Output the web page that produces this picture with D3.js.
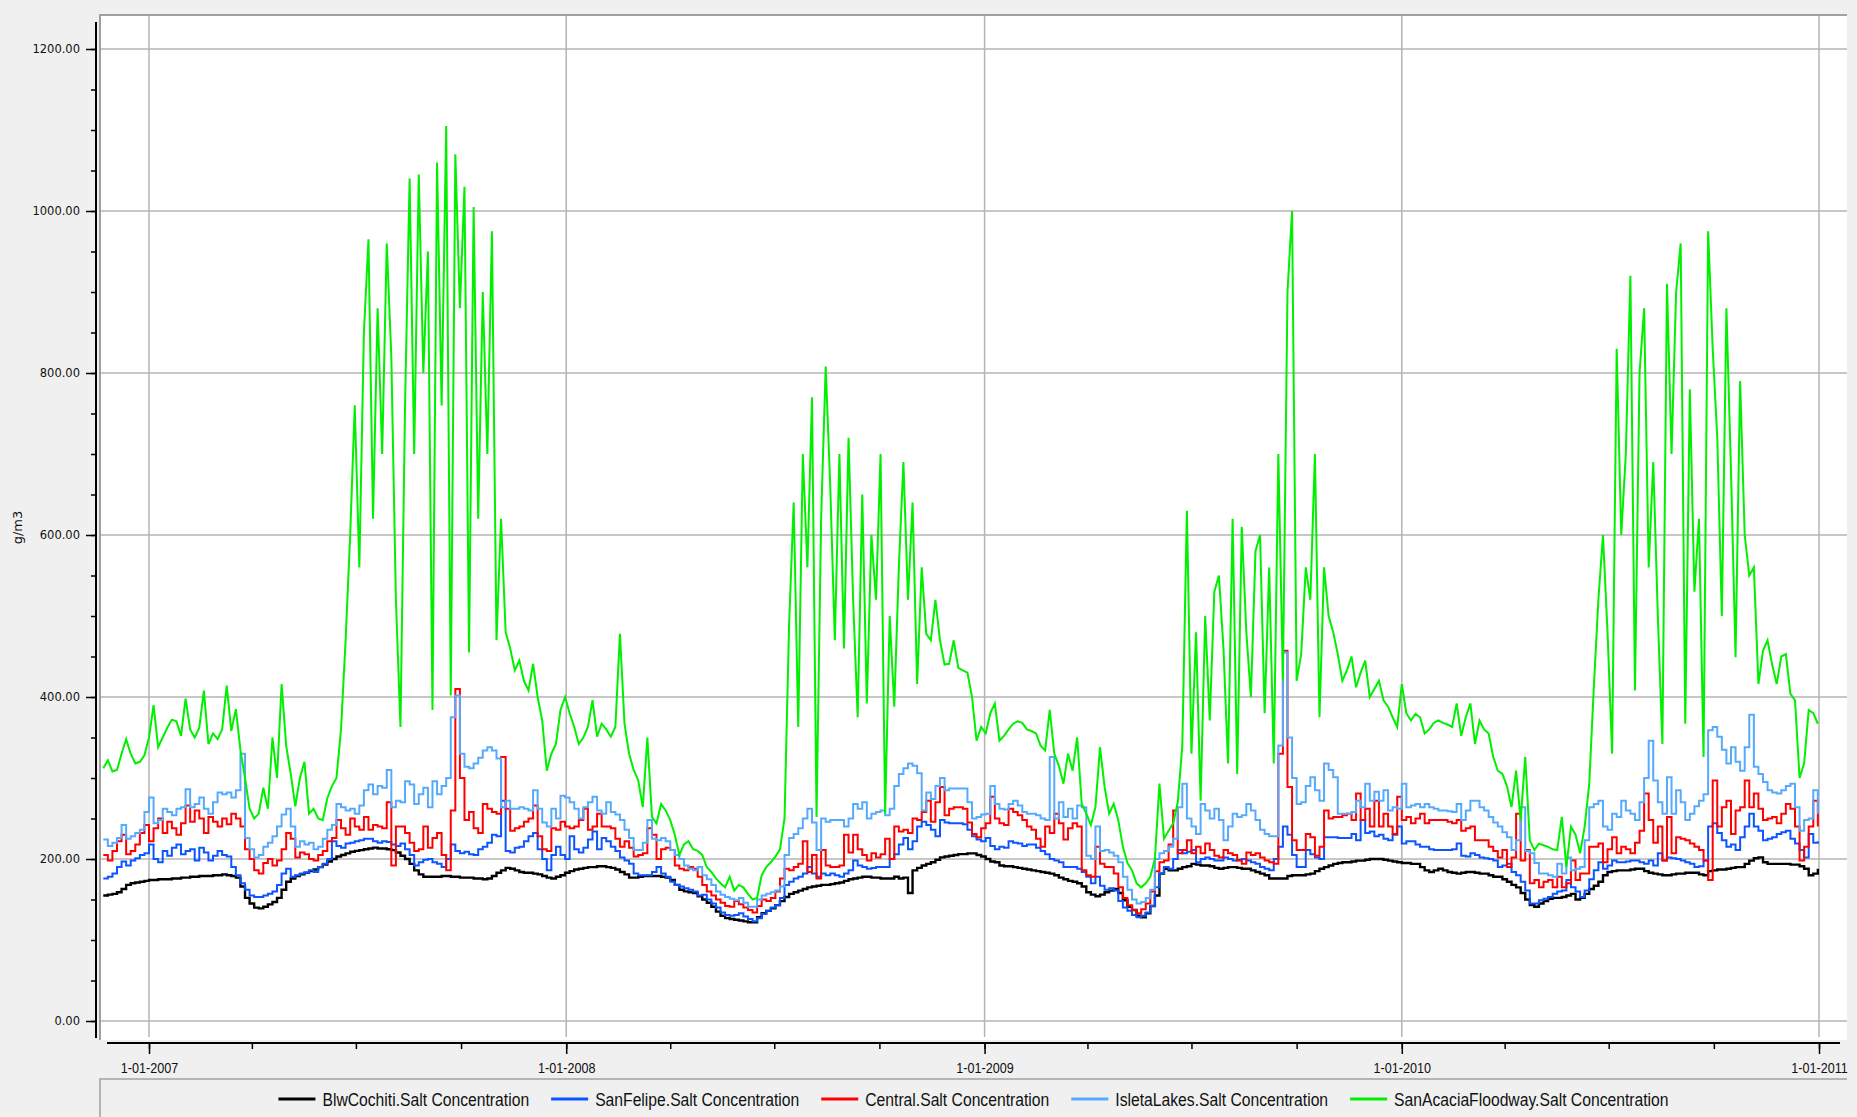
<!DOCTYPE html>
<html>
<head>
<meta charset="utf-8">
<script src="https://cdn.jsdelivr.net/npm/d3@7"></script>
<style>
    html, body { margin: 0; padding: 0; background: #f0f0f0; }
    svg { display: block; }
</style>
</head>
<body>
<svg id="chart" width="1857" height="1117"></svg>
<script>
// Daily model output, sampled every 4 days from 22 Nov 2006
const START_DATE = "2006-11-22";
const STEP_DAYS = 4;

const SERIES_NAMES = [
    "BlwCochiti.Salt Concentration",
    "SanFelipe.Salt Concentration",
    "Central.Salt Concentration",
    "IsletaLakes.Salt Concentration",
    "SanAcaciaFloodway.Salt Concentration",
];
const SERIES_COLORS = ["#000000", "#0a55ff", "#ff0000", "#55aaff", "#00f000"];

const Y_TICKS = [0, 200, 400, 600, 800, 1000, 1200];
const X_TICKS = ["2007-01-01", "2008-01-01", "2009-01-01", "2010-01-01", "2011-01-01"];
const Y_LABEL = "g/m3";

const blwCochiti = [
    155,156,157,159,163,168,170,171,172,173,
    174,174,175,175,175,176,176,177,177,178,
    178,179,179,179,180,180,181,180,179,177,
    166,152,145,140,139,141,144,147,152,162,
    172,176,179,181,183,185,187,190,193,197,
    200,203,205,207,209,210,211,212,213,214,
    213,213,212,211,208,204,200,194,186,181,
    178,178,178,178,179,179,178,178,177,177,
    177,176,176,175,176,179,183,186,189,188,
    186,184,183,183,182,181,179,177,176,178,
    180,183,185,187,188,189,190,190,191,191,
    190,189,187,184,181,177,177,178,179,179,
    179,179,178,177,174,168,162,160,159,158,
    154,150,146,141,135,130,127,126,125,124,
    123,122,122,128,133,136,139,143,148,153,
    157,159,161,163,165,166,167,168,168,169,
    170,171,173,175,176,177,178,178,177,177,
    176,176,176,178,176,177,158,186,189,192,
    194,196,199,202,203,204,205,206,206,207,
    207,205,203,200,197,196,192,191,191,190,
    189,188,187,186,185,184,183,182,180,177,
    175,173,172,170,166,159,156,154,156,159,
    161,163,158,149,141,137,130,128,133,142,
    155,182,188,186,186,188,190,191,194,193,
    192,192,191,189,188,189,190,190,189,188,
    188,186,184,182,180,176,176,176,176,179,
    180,180,180,181,182,185,188,190,192,194,
    195,196,196,197,198,198,199,200,200,200,
    199,198,197,196,195,195,194,194,190,186,
    184,186,188,186,184,183,182,183,184,184,
    183,182,182,180,178,178,175,172,168,165,
    158,150,143,141,145,148,151,152,152,153,
    155,157,150,152,157,163,167,172,180,184,
    185,186,186,186,187,188,188,185,183,182,
    181,180,180,181,182,182,183,183,183,181,
    180,185,186,187,187,188,189,190,190,194,
    198,201,202,196,194,194,194,194,194,193,
    193,191,188,180,182,188
];

const sanFelipe = [
    176,178,182,190,197,192,198,201,205,207,
    218,200,196,210,204,214,218,206,210,212,
    198,214,208,198,204,210,205,203,190,180,
    170,162,155,153,153,155,157,160,168,182,
    188,178,180,182,183,186,184,190,194,200,
    222,216,214,219,220,222,223,225,225,222,
    220,222,221,218,216,219,212,205,192,196,
    199,200,196,194,190,200,218,210,207,209,
    206,205,212,215,220,230,228,272,210,208,
    214,215,222,228,232,212,200,186,205,215,
    205,200,228,212,208,214,224,234,212,226,
    222,215,210,202,198,194,182,180,180,180,
    184,190,182,178,172,168,166,164,162,160,
    155,156,150,145,140,134,131,130,131,133,
    129,126,123,127,132,136,140,143,152,168,
    172,176,178,182,190,182,178,182,180,182,
    180,178,182,186,198,192,190,188,189,190,
    190,190,200,206,218,226,212,222,240,246,
    242,236,228,248,245,244,244,244,243,236,
    228,224,222,226,216,212,215,214,222,220,
    219,216,218,218,214,210,206,200,198,196,
    190,190,190,188,184,178,170,178,167,162,
    164,161,148,140,136,131,128,130,134,142,
    165,182,190,188,200,211,207,209,211,196,
    200,202,200,198,198,202,200,198,199,200,
    198,196,194,190,188,186,200,215,240,230,
    205,190,190,211,206,202,200,227,227,227,
    226,226,226,231,223,248,232,234,228,230,
    225,223,230,240,219,222,222,218,215,215,
    212,211,211,211,211,212,219,204,203,207,
    205,202,201,200,198,190,192,194,184,180,
    172,161,145,145,149,151,153,157,160,161,
    174,165,160,153,161,175,186,196,188,192,
    198,196,196,197,198,198,196,194,198,192,
    207,198,202,201,200,198,196,194,190,191,
    198,240,244,232,223,215,218,211,227,240,
    256,240,235,223,225,227,231,233,235,225,
    219,211,202,231,220,222
];

const central = [
    205,198,210,222,230,206,210,218,232,242,
    222,238,250,232,246,238,230,244,266,246,
    260,250,232,252,246,240,250,243,256,250,
    240,212,200,186,182,195,200,192,198,212,
    232,225,202,208,206,200,198,205,210,222,
    226,248,238,230,250,240,236,252,236,242,
    240,238,270,192,240,240,232,220,210,212,
    240,214,226,232,205,186,260,410,300,248,
    258,238,232,268,262,258,256,326,262,235,
    238,240,246,250,266,228,212,210,238,236,
    246,240,238,240,248,262,236,240,256,240,
    240,238,225,215,222,214,203,205,207,238,
    230,200,212,214,211,192,188,186,190,188,
    178,168,160,155,150,146,142,141,148,144,
    140,137,134,142,150,148,152,160,176,188,
    186,190,194,222,184,205,176,211,192,190,
    190,192,230,208,230,212,205,198,207,202,
    206,225,200,240,234,236,232,250,248,258,
    272,246,270,289,254,262,264,264,262,245,
    231,227,238,244,277,250,244,242,262,258,
    254,248,240,236,225,215,240,232,256,244,
    224,238,244,240,186,180,178,215,194,190,
    190,182,165,152,143,137,133,138,145,160,
    185,196,198,218,260,207,211,223,207,215,
    207,219,211,204,202,211,207,205,198,194,
    208,205,207,202,198,196,194,330,457,289,
    223,211,211,231,227,204,215,260,250,252,
    252,254,256,248,281,248,262,240,272,240,
    256,240,231,277,248,252,244,250,256,244,
    248,248,248,248,246,244,248,235,238,240,
    223,223,223,215,210,202,211,190,202,256,
    198,211,170,174,165,172,174,165,178,165,
    170,198,174,182,182,215,215,219,196,212,
    227,207,215,212,207,220,235,281,248,220,
    240,198,252,207,227,225,223,219,215,211,
    198,174,297,240,264,272,231,260,264,297,
    264,281,262,248,250,252,244,256,268,262,
    240,198,215,240,272,240
];

const isletaLakes = [
    224,216,220,226,242,225,228,232,236,258,
    276,244,248,262,258,254,262,264,286,264,
    268,276,262,256,270,282,280,282,276,285,
    330,226,212,202,205,215,220,228,240,255,
    262,240,215,222,218,220,212,215,225,236,
    242,268,264,260,262,256,266,285,292,280,
    290,288,310,264,272,270,296,292,268,280,
    288,264,296,280,290,300,375,402,330,314,
    312,318,325,334,338,334,324,264,272,262,
    262,264,262,260,285,262,245,240,262,250,
    278,276,270,262,250,264,270,277,260,256,
    270,258,255,248,236,226,211,211,220,248,
    225,223,226,222,211,205,200,192,188,186,
    190,180,175,168,160,156,153,151,149,152,
    146,141,141,150,155,157,159,161,166,205,
    226,231,238,250,262,245,211,250,246,248,
    248,248,240,250,268,262,270,250,256,258,
    260,254,262,290,305,312,318,315,306,260,
    282,274,290,300,285,287,287,287,287,270,
    250,252,255,256,290,268,262,261,268,272,
    266,258,256,256,254,250,248,326,250,270,
    252,262,250,266,264,204,200,240,210,211,
    208,204,196,178,162,150,145,147,152,162,
    200,207,210,215,225,264,293,250,240,231,
    268,260,250,262,248,223,240,256,252,254,
    268,260,248,236,231,228,228,340,455,350,
    300,268,270,290,301,285,272,318,310,301,
    256,256,256,258,272,264,293,272,283,272,
    285,260,264,262,293,264,266,268,264,268,
    264,262,260,260,259,258,268,248,260,272,
    272,264,260,252,245,240,233,227,211,223,
    264,210,207,195,182,182,180,178,194,182,
    202,186,188,190,223,264,268,272,240,236,
    256,252,272,260,256,248,270,300,346,297,
    270,256,301,256,285,270,248,256,265,272,
    280,359,363,351,335,318,338,320,309,338,
    378,314,305,295,285,282,281,285,290,293,
    264,235,248,250,285,256
];

const sanAcacia = [
    312,322,308,310,330,348,330,318,320,328,
    350,390,338,350,362,372,370,352,398,360,
    350,362,408,342,355,348,360,414,358,385,
    334,300,262,250,256,288,262,350,300,416,
    340,305,265,300,320,256,262,250,248,275,
    290,300,360,470,600,760,560,850,965,620,
    880,700,960,820,520,363,760,1040,700,1045,
    800,950,384,1060,760,1105,402,1070,880,1030,
    455,1005,620,900,700,975,470,620,480,460,
    433,445,420,408,441,400,371,309,330,342,
    384,400,380,363,342,350,363,396,351,367,
    360,351,363,478,367,330,310,297,264,350,
    252,244,268,260,248,230,205,218,222,212,
    210,205,190,184,176,170,165,178,161,168,
    165,157,150,152,180,190,196,203,212,250,
    490,640,363,700,560,770,252,620,808,660,
    470,700,460,720,520,375,650,392,600,520,
    700,256,500,388,560,690,520,640,416,560,
    478,470,520,470,440,441,470,436,433,430,
    400,346,363,355,380,392,346,352,360,367,
    370,368,360,358,355,340,334,384,330,315,
    293,330,309,350,268,256,242,264,338,289,
    256,268,248,215,195,186,170,165,170,178,
    200,293,225,235,244,270,340,630,330,480,
    272,500,371,530,550,460,318,620,305,610,
    480,400,580,600,380,560,318,700,420,900,
    1000,420,453,560,520,700,375,560,500,480,
    453,420,433,450,412,430,445,400,410,420,
    396,388,375,363,416,380,371,379,375,355,
    360,368,371,368,366,363,392,352,375,392,
    342,371,360,355,326,309,305,290,264,309,
    248,326,223,211,219,217,215,212,211,252,
    190,240,230,207,240,293,412,520,600,480,
    330,830,600,700,920,408,800,880,560,690,
    500,342,910,700,900,960,367,780,530,620,
    326,975,830,720,500,880,680,449,790,600,
    550,560,416,457,470,440,416,450,453,404,
    396,300,318,384,380,367
];

const SERIES_VALUES = [blwCochiti, sanFelipe, central, isletaLakes, sanAcacia];

const CHART = {
    selector: "#chart",
    width: 1857,
    height: 1117,
    plot: { left: 100, right: 1847, top: 15, bottom: 1040 },
    yAxis: { x: 96, top: 22, bottom: 1038 },
    xAxis: { y: 1043, left: 107, right: 1840 },
    legend: { top: 1079, cy: 1099 },
};

// narrow UI face, imitated by squeezing Liberation Sans
const NARROW = 0.84;
const LABEL_FONT = "'Liberation Sans', Arial, sans-serif";

function drawChart(chart) {
    const svg = d3.select(chart.selector);
    const p = chart.plot;
    const parse = d3.timeParse("%Y-%m-%d");
    const xTicks = X_TICKS.map(parse);
    const start = parse(START_DATE);

    chart.x = d3.scaleTime()
        .domain([xTicks[0], xTicks[xTicks.length - 1]])
        .range([149, 1819]);
    chart.y = d3.scaleLinear().domain([0, 1200]).range([1021, 49]);

    svg.append("rect")
        .attr("width", chart.width)
        .attr("height", chart.height)
        .attr("fill", "#f0f0f0");

    svg.append("rect")
        .attr("x", p.left)
        .attr("y", p.top)
        .attr("width", p.right - p.left)
        .attr("height", p.bottom - p.top)
        .attr("fill", "#ffffff");

    // Grid
    const grid = svg.append("g").attr("stroke", "#b4b4b4").attr("stroke-width", 1.5);
    grid.selectAll(".hgrid")
        .data(Y_TICKS)
        .join("line")
        .attr("x1", p.left)
        .attr("x2", p.right)
        .attr("y1", (d) => chart.y(d))
        .attr("y2", (d) => chart.y(d));
    grid.selectAll(".vgrid")
        .data(xTicks)
        .join("line")
        .attr("x1", (d) => chart.x(d))
        .attr("x2", (d) => chart.x(d))
        .attr("y1", p.top)
        .attr("y2", p.bottom - 3);

    // Sunken border on top and left
    svg.append("path")
        .attr("d", `M${p.left},${p.bottom}V${p.top}H${p.right}`)
        .attr("fill", "none")
        .attr("stroke", "#a0a0a0")
        .attr("stroke-width", 2);

    // Series
    svg.append("clipPath")
        .attr("id", "plot-clip")
        .append("rect")
        .attr("x", p.left + 1)
        .attr("y", p.top + 1)
        .attr("width", p.right - p.left - 1)
        .attr("height", p.bottom - p.top - 1);

    const stepLine = d3.line()
        .x((d) => chart.x(d.date))
        .y((d) => chart.y(d.value))
        .curve(d3.curveStepAfter);
    // the floodway series is very spiky, straight segments read better
    const spikeLine = d3.line()
        .x((d) => chart.x(d.date))
        .y((d) => chart.y(d.value));

    const lines = svg.append("g").attr("clip-path", "url(#plot-clip)");
    SERIES_VALUES.forEach((values, k) => {
        const data = values.map((v, i) => ({
            date: d3.timeDay.offset(start, i * STEP_DAYS),
            value: v,
        }));
        lines.append("path")
            .datum(data)
            .attr("fill", "none")
            .attr("stroke", SERIES_COLORS[k])
            .attr("stroke-width", k === 0 ? 2.4 : 2)
            .attr("stroke-linejoin", "miter")
            .attr("d", k === 4 ? spikeLine : stepLine);
    });

    // Y axis
    const yg = svg.append("g").attr("transform", `translate(${chart.yAxis.x},0)`);
    yg.append("g")
        .call(d3.axisLeft(chart.y).tickValues(d3.range(0, 1201, 50)).tickSize(5).tickFormat(""));
    yg.append("g")
        .call(d3.axisLeft(chart.y).tickValues(Y_TICKS).tickSize(10).tickPadding(6)
            .tickFormat(d3.format(".2f")));
    yg.selectAll(".domain").remove();
    yg.selectAll(".tick line").attr("stroke", "#000").attr("stroke-width", 1.5);
    yg.selectAll(".tick text")
        .attr("fill", "#111")
        .style("font-family", "'DejaVu Sans', Verdana, sans-serif")
        .style("font-size", "11.5px");
    yg.append("line")
        .attr("y1", chart.yAxis.top)
        .attr("y2", chart.yAxis.bottom)
        .attr("stroke", "#000")
        .attr("stroke-width", 2);

    svg.append("text")
        .attr("transform", `translate(22,${(p.top + p.bottom) / 2}) rotate(-90)`)
        .attr("text-anchor", "middle")
        .attr("fill", "#111")
        .style("font-family", "'DejaVu Sans', Verdana, sans-serif")
        .style("font-size", "13px")
        .text(Y_LABEL);

    // X axis
    const quarters = d3.timeMonth.every(3).range(xTicks[0], d3.timeDay.offset(xTicks[xTicks.length - 1], 1));
    const xg = svg.append("g").attr("transform", `translate(0,${chart.xAxis.y})`);
    xg.append("g")
        .call(d3.axisBottom(chart.x).tickValues(quarters).tickSize(6).tickFormat(""));
    xg.append("g")
        .call(d3.axisBottom(chart.x).tickValues(xTicks).tickSize(11).tickPadding(8)
            .tickFormat(d3.timeFormat("%-m-%d-%Y")));
    xg.selectAll(".domain").remove();
    xg.selectAll(".tick line").attr("stroke", "#000").attr("stroke-width", 1.5);
    xg.selectAll(".tick text")
        .attr("fill", "#111")
        .attr("transform", `scale(${NARROW},1)`)
        .style("font-family", LABEL_FONT)
        .style("font-size", "15px");
    xg.append("line")
        .attr("x1", chart.xAxis.left)
        .attr("x2", chart.xAxis.right)
        .attr("stroke", "#000")
        .attr("stroke-width", 2);

    // Legend
    const lg = svg.append("g");
    lg.append("path")
        .attr("d", `M${p.left},${chart.height}V${chart.legend.top}H${p.right}`)
        .attr("fill", "none")
        .attr("stroke", "#b4b4b4")
        .attr("stroke-width", 2);

    const items = lg.append("g");
    let cursor = 0;
    SERIES_NAMES.forEach((name, k) => {
        const it = items.append("g").attr("transform", `translate(${cursor},0)`);
        it.append("line")
            .attr("x1", 0)
            .attr("x2", 37)
            .attr("y1", chart.legend.cy)
            .attr("y2", chart.legend.cy)
            .attr("stroke", SERIES_COLORS[k])
            .attr("stroke-width", 3);
        const t = it.append("text")
            .attr("transform", `translate(44,${chart.legend.cy}) scale(${NARROW},1)`)
            .attr("dy", "0.35em")
            .attr("fill", "#111")
            .style("font-family", LABEL_FONT)
            .style("font-size", "18.7px")
            .text(name);
        cursor += 44 + t.node().getComputedTextLength() * NARROW + 22;
    });
    const total = cursor - 22;
    items.attr("transform", `translate(${(p.left + p.right) / 2 - total / 2},0)`);
}

window.addEventListener("load", function () {
    drawChart(CHART);
});
</script>
</body>
</html>
